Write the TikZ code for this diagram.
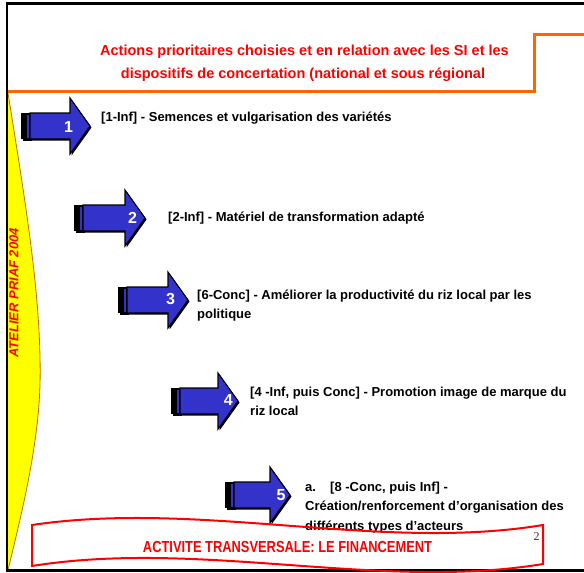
\documentclass[tikz,border=0pt]{standalone}
\usepackage{graphicx}
\usepackage{fontspec}
\setmainfont{Liberation Sans}
\newfontfamily\pageserif{Liberation Serif}
\definecolor{arrowblue}{RGB}{51,51,204}
\definecolor{orangeline}{RGB}{255,102,0}
\definecolor{yellowfill}{RGB}{255,255,0}
\definecolor{bandedge}{RGB}{190,110,0}
\definecolor{pagered}{RGB}{255,0,0}
\tikzset{
  titletext/.style={anchor=base, inner sep=0, text=pagered, font=\bfseries\fontsize{14.5}{23}\selectfont},
  lbl/.style={anchor=base west, inner sep=0, text=black, font=\bfseries\fontsize{13}{19}\selectfont},
  numtext/.style={anchor=base, inner sep=0, text=white, font=\bfseries\fontsize{16}{16}\selectfont},
  arrowbody/.style={fill=arrowblue, draw=black, line width=1.1, line join=miter},
}
\newcommand{\stripedarrow}[3]{%
  \pgfmathsetmacro{\sxs}{#1+9}%
  \pgfmathsetmacro{\sxb}{#2-20}%
  \pgfmathsetmacro{\syt}{#3-13}%
  \pgfmathsetmacro{\syb}{#3+13}%
  \pgfmathsetmacro{\syht}{#3-28}%
  \pgfmathsetmacro{\syhb}{#3+28}%
  \pgfmathsetmacro{\sxa}{#1+6.3}%
  \pgfmathsetmacro{\sxc}{#1+7.8}%
  \fill[black, shift={(1.5,1.5)}] (#1,\syt) rectangle (\sxs,\syb);
  \fill[black, shift={(1.5,1.5)}] (\sxs,\syt) -- (\sxb,\syt) -- (\sxb,\syht) -- (#2,#3) -- (\sxb,\syhb) -- (\sxb,\syb) -- (\sxs,\syb) -- cycle;
  \fill[black] (#1,\syt) rectangle (\sxs,\syb);
  \fill[arrowblue] (\sxa,\syt+1.5) rectangle (\sxc,\syb-1.5);
  \draw[arrowbody] (\sxs,\syt) -- (\sxb,\syt) -- (\sxb,\syht) -- (#2,#3) -- (\sxb,\syhb) -- (\sxb,\syb) -- (\sxs,\syb) -- cycle;
}
\begin{document}
\begin{tikzpicture}[x=1pt,y=-1pt]
\useasboundingbox (0,0) rectangle (584,573);
\fill[white] (0,0) rectangle (584,573);

% yellow band
\fill[yellowfill] (8,93) .. controls (25,200) and (42,300) .. (40,385) .. controls (38,450) and (20,520) .. (8,570) -- cycle;
\draw[bandedge, line width=0.8] (8,93) .. controls (25,200) and (42,300) .. (40,385) .. controls (38,450) and (20,520) .. (8,570);
\node[rotate=90, inner sep=0, text=pagered, font=\bfseries\itshape\fontsize{13}{13}\selectfont] (atelier) at (14,293) {ATELIER PRIAF 2004};

% frame
\draw[orangeline, line width=3] (7,91) -- (534,91) -- (534,34) -- (584,34);
\draw[line width=2.5] (584,3.5) -- (7,3.5) -- (7,570.5) -- (584,570.5);

% title
\node[titletext] (title1) at (304.5,55.5) {Actions prioritaires choisies et en relation avec les SI et les};
\node[titletext] (title2) at (303,78.5) {dispositifs de concertation (national et sous régional};

% arrows
\stripedarrow{21}{90}{126}
\stripedarrow{74}{145}{218}
\stripedarrow{118}{188}{300}
\stripedarrow{171}{238}{401}
\stripedarrow{225}{290}{495}

\node[numtext] (n1) at (68.5,132.5) {1};
\node[numtext] (n2) at (132.5,223.3) {2};
\node[numtext] (n3) at (170.5,304.7) {3};
\node[numtext] (n4) at (228.3,405) {4};
\node[numtext] (n5) at (281,500) {5};

% labels
\node[lbl] (l1) at (101,121.5) {[1-Inf] - Semences et vulgarisation des variétés};
\node[lbl] (l2) at (168,221) {[2-Inf] - Matériel de transformation adapté};
\node[lbl] (l3a) at (197,299.5) {[6-Conc] - Améliorer la productivité du riz local par les};
\node[lbl] (l3b) at (197,318.5) {politique};
\node[lbl] (l4a) at (250,396) {[4 -Inf, puis Conc] - Promotion image de marque du};
\node[lbl] (l4b) at (250,415) {riz local};
\node[lbl] (l5x) at (305,491) {a.};
\node[lbl] (l5a) at (330,491) {[8 -Conc, puis Inf] -};
\node[lbl] (l5b) at (305,510.5) {Création/renforcement d'organisation des};
\node[lbl] (l5c) at (305,530) {différents types d'acteurs};

% wave box
\draw[pagered, line width=2, line join=miter] (32,525) .. controls (200,500) and (380,552) .. (543,525) -- (543,564) .. controls (380,591) and (200,539) .. (32,566) -- cycle;
\node[anchor=base, inner sep=0, text=pagered, font=\bfseries\fontsize{16}{16}\selectfont] (financement) at (287.5,552) {\scalebox{0.805}[1]{ACTIVITE TRANSVERSALE: LE FINANCEMENT}};
\node[anchor=base, inner sep=0, text=black!80, font=\pageserif\fontsize{12}{12}\selectfont] (pagenum) at (536.5,540) {2};
\end{tikzpicture}
\end{document}
